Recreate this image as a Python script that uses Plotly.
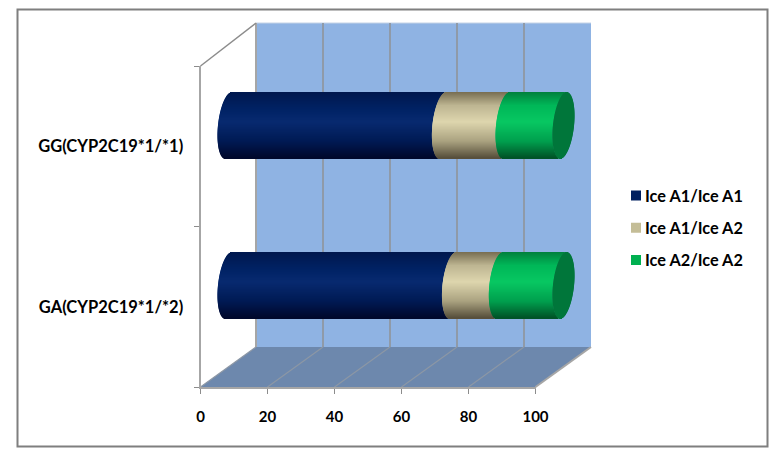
import math
import plotly.graph_objects as go

W, H = 784, 456

# data (bottom category first)
categories = ['GA(CYP2C19*1/*2)', 'GG(CYP2C19*1/*1)']
ice_a1_a1 = [67, 64]
ice_a1_a2 = [14, 19]
ice_a2_a2 = [19, 17]
x_ticks = [0, 20, 40, 60, 80, 100]

PX_PER_X = 3.35   # front axis: 335 px for 0..100
PX_PER_CAT = 160.5
BAR_PX = 66
X2_PAD = 12       # extra axis range so the cylinder ends are not cut off


def fx(px):
    return px / W


def fy(py):
    return 1 - py / H


def lerp_stops(stops, u):
    for (u0, c0), (u1, c1) in zip(stops, stops[1:]):
        if u <= u1:
            k = (u - u0) / (u1 - u0)
            return 'rgb(%d,%d,%d)' % tuple(c0[i] + (c1[i] - c0[i]) * k for i in range(3))
    return 'rgb(%d,%d,%d)' % stops[-1][1]


navy = [(0, (0, 24, 78)), (0.25, (0, 34, 100)), (0.45, (8, 42, 112)), (0.75, (0, 26, 84)), (1, (0, 8, 44))]
tan = [(0, (122, 112, 84)), (0.2, (190, 182, 146)), (0.45, (222, 214, 174)), (0.75, (170, 162, 128)), (1, (88, 80, 60))]
green = [(0, (0, 130, 62)), (0.2, (0, 184, 88)), (0.45, (8, 200, 98)), (0.75, (0, 160, 78)), (1, (0, 84, 40))]

slices = list(range(BAR_PX))


def slice_t(k):
    # +1 at the top edge of the cylinder, -1 at the bottom
    return 1 - 2 * (k + 0.5) / BAR_PX


def end_curve(t, side):
    # tilted ellipse of the cylinder end, in x-axis units
    return (3.3 * t + side * 10.5 * math.sqrt(1 - t * t)) / PX_PER_X


def cylinder_trace(values, starts, stops, name):
    ys, xs, bases, colors = [], [], [], []
    for c in range(len(categories)):
        for k in slices:
            t = slice_t(k)
            ys.append(c + (t * BAR_PX / 2) / PX_PER_CAT)
            xs.append(values[c])
            bases.append(starts[c] + end_curve(t, -1))
            colors.append(lerp_stops(stops, k / (BAR_PX - 1)))
    return go.Bar(x=xs, y=ys, base=bases, width=1 / PX_PER_CAT, orientation='h', name=name,
                  marker=dict(color=colors, line=dict(width=0)), showlegend=False,
                  hoverinfo='skip', xaxis='x2', yaxis='y2')


def end_cap_trace(totals):
    ys, xs, bases = [], [], []
    for c in range(len(categories)):
        for k in slices:
            t = slice_t(k)
            ys.append(c + (t * BAR_PX / 2) / PX_PER_CAT)
            xs.append(end_curve(t, 1) - end_curve(t, -1))
            bases.append(totals[c] + end_curve(t, -1))
    return go.Bar(x=xs, y=ys, base=bases, width=1 / PX_PER_CAT, orientation='h',
                  marker=dict(color='#00763a', line=dict(width=0)), showlegend=False,
                  hoverinfo='skip', xaxis='x2', yaxis='y2')


start_2 = ice_a1_a1
start_3 = [a + b for a, b in zip(ice_a1_a1, ice_a1_a2)]
totals = [a + b for a, b in zip(start_3, ice_a2_a2)]

fig = go.Figure()
fig.add_trace(cylinder_trace(ice_a1_a1, [0, 0], navy, 'Ice A1/Ice A1'))
fig.add_trace(cylinder_trace(ice_a1_a2, start_2, tan, 'Ice A1/Ice A2'))
fig.add_trace(cylinder_trace(ice_a2_a2, start_3, green, 'Ice A2/Ice A2'))
fig.add_trace(end_cap_trace(totals))

# legend only entries, they also carry the category axis
for name, col in [('Ice A1/Ice A1', '#002060'), ('Ice A1/Ice A2', '#c4bd97'), ('Ice A2/Ice A2', '#00b050')]:
    fig.add_trace(go.Scatter(x=[None, None], y=categories, mode='markers', name=name, legendgroup=name,
                             marker=dict(symbol='square', size=10, color=col), hoverinfo='skip'))

shapes = []
LINE = '#a6a6a6'


def poly(points, fill=None, color=None, width=0):
    path = 'M ' + ' L '.join('%.5f %.5f' % (fx(a), fy(b)) for a, b in points) + ' Z'
    shapes.append(dict(type='path', path=path, xref='paper', yref='paper', layer='below',
                       fillcolor=fill, line=dict(color=color, width=width)))


def seg(x0, y0, x1, y1, color=LINE, width=2):
    shapes.append(dict(type='line', xref='paper', yref='paper', layer='below',
                       x0=fx(x0), y0=fy(y0), x1=fx(x1), y1=fy(y1), line=dict(color=color, width=width)))


# outer frame
shapes.append(dict(type='rect', xref='paper', yref='paper', layer='below',
                   x0=fx(17.5), y0=fy(446.5), x1=fx(767.5), y1=fy(9.5),
                   line=dict(color='#7f7f7f', width=2), fillcolor='white'))
# back wall and floor
poly([(256, 23), (591, 23), (591, 347), (256, 347)], fill='#8fb3e3')
poly([(200.5, 387), (535.5, 387), (591, 347), (256, 347)], fill='#6d88ad')
seg(256, 23, 591, 23, '#c5d3e6', 1)
for v in x_ticks:
    bx = 256 + v * PX_PER_X
    fxp = 200.5 + v * PX_PER_X
    if v < 100:
        seg(bx, 23, bx, 347, '#8f9aa8' if v else LINE, 2)
    seg(fxp, 387, bx, 347, '#8c97a5' if v < 100 else LINE, 1.2 if v < 100 else 2)
seg(200.5, 66, 256, 23, '#8c8c8c', 1.5)

fig.update_layout(
    width=W, height=H,
    margin=dict(l=0, r=0, t=0, b=0, autoexpand=False),
    autosize=False,
    paper_bgcolor='white',
    plot_bgcolor='rgba(0,0,0,0)',
    barmode='overlay',
    shapes=shapes,
    showlegend=True,
    legend=dict(x=fx(617), y=fy(178.5), xanchor='left', yanchor='top', tracegroupgap=8, indentation=-12,
                bgcolor='rgba(0,0,0,0)', font=dict(family='Lato', size=16.3, weight=700, color='black')),
    xaxis=dict(domain=[fx(200.5), fx(535.5)], range=[0, 100], tickvals=x_ticks, ticks='outside', ticklen=5,
               tickcolor='#8c8c8c', tickwidth=1, showgrid=False, zeroline=False, showline=True,
               linecolor=LINE, linewidth=2, anchor='y', ticklabelstandoff=10,
               tickfont=dict(family='Lato', size=15, weight=700, color='black')),
    yaxis=dict(domain=[fy(387), fy(66)], type='category', categoryorder='array', categoryarray=categories,
               range=[-0.5, 1.5], tickson='boundaries', ticks='outside', ticklen=5, tickcolor='#8c8c8c',
               tickwidth=1, showgrid=False, zeroline=False, showline=True, linecolor=LINE, linewidth=2,
               anchor='x', ticklabelstandoff=12,
               tickfont=dict(family='Lato', size=16.5, weight=700, color='black')),
    xaxis2=dict(domain=[fx(228.5 - X2_PAD * PX_PER_X), fx(563.5 + X2_PAD * PX_PER_X)],
                range=[-X2_PAD, 100 + X2_PAD], visible=False, anchor='y2'),
    yaxis2=dict(domain=[fy(366), fy(45)], range=[-0.5, 1.5], visible=False, anchor='x2'),
)

# plotly keeps a wide gap between swatch and text, so move the swatches closer
post = """
document.body.style.margin = '0';
var gd = document.getElementById('{plot_id}');
function moveSwatches() {
    gd.querySelectorAll('.legendsymbols').forEach(function (g) {
        g.setAttribute('transform', 'translate(11,0)');
    });
}
gd.on('plotly_afterplot', moveSwatches);
moveSwatches();
"""
fig.write_html("out.html", config=dict(displayModeBar=False), post_script=post)
